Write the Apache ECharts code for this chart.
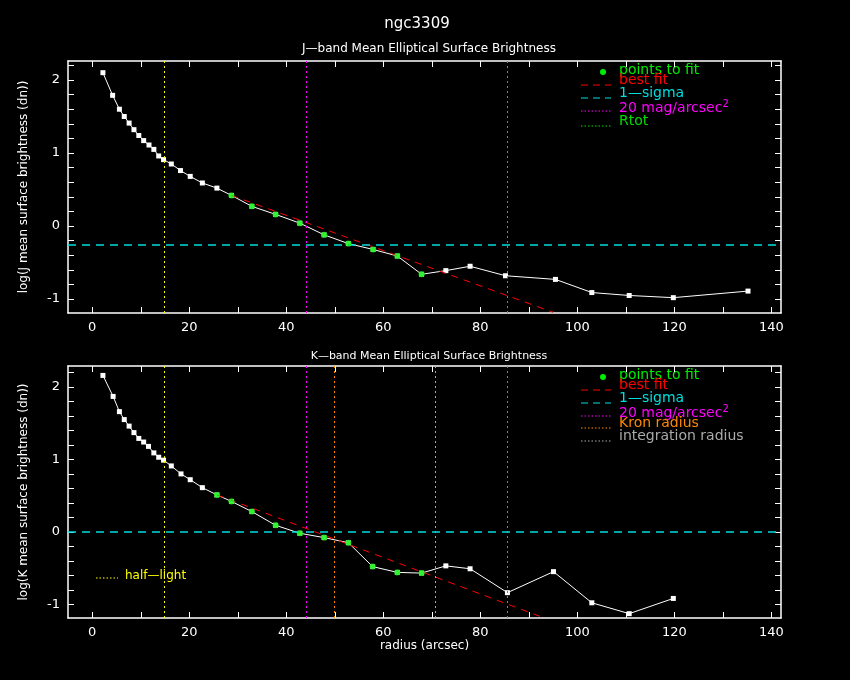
<!DOCTYPE html>
<html><head><meta charset="utf-8">
<script src="https://cdn.jsdelivr.net/npm/echarts@6/dist/echarts.min.js"></script>
<style>html,body{margin:0;background:#000}#c{width:850px;height:680px}</style>
</head><body><div id="c"></div>
<script>
// J band profile
var jRadius = [2.2,4.2,5.6,6.6,7.6,8.6,9.6,10.6,11.7,12.7,13.7,14.7,16.3,18.2,20.2,22.7,25.7,28.7,32.9,37.8,42.8,47.8,52.8,57.9,62.9,67.9,72.9,77.9,85.2,95.5,103,110.7,119.8,135.2]
var jValue = [2.10,1.79,1.60,1.50,1.41,1.32,1.24,1.17,1.11,1.05,0.96,0.91,0.85,0.76,0.68,0.59,0.52,0.42,0.27,0.16,0.04,-0.12,-0.24,-0.32,-0.41,-0.66,-0.61,-0.55,-0.68,-0.73,-0.91,-0.95,-0.98,-0.89]
var jFitIdx = [17,18,19,20,21,22,23,24,25]
var jFitLine = [[28.7,0.42],[95,-1.18]]
var jSigma = -0.25
var jVert = [[14.9,'#ffff00'],[44.1,'#ff00ff'],[85.5,'#00dd00']]
// K band profile
var kRadius = [2.2,4.3,5.6,6.6,7.6,8.6,9.6,10.6,11.6,12.7,13.7,14.7,16.3,18.3,20.2,22.7,25.7,28.7,32.9,37.8,42.8,47.8,52.8,57.8,62.9,67.9,72.9,77.9,85.6,95.1,103,110.7,119.8]
var kValue = [2.16,1.87,1.66,1.55,1.46,1.37,1.29,1.24,1.18,1.09,1.03,0.99,0.91,0.80,0.72,0.61,0.51,0.42,0.28,0.09,-0.02,-0.08,-0.15,-0.48,-0.56,-0.57,-0.47,-0.51,-0.84,-0.55,-0.98,-1.13,-0.92]
var kFitIdx = [16,17,18,19,20,21,22,23,24,25]
var kFitLine = [[25.7,0.51],[92.4,-1.17]]
var kSigma = 0
var kVert = [[14.9,'#ffff00'],[44.1,'#ff00ff'],[49.9,'#ff8800'],[70.7,'#aaaaaa'],[85.5,'#00dd00']]

var xLabels = [0,20,40,60,80,100,120,140]
var xTicks = [0,10,20,30,40,50,60,70,80,90,100,110,120,130,140]
var yLabels = [-1,0,1,2]
var yTicks = []
for (var t = -10; t <= 22; t += 2) yTicks.push(t / 10)

var font = 'DejaVu Sans'
function pts(xs, ys) { return xs.map(function(x, i){ return [x, ys[i]] }) }
function sel(xs, ys, idx) { return idx.map(function(i){ return [xs[i], ys[i]] }) }

function xAx(g, pos, showLabel, name) {
  return {
    type: 'value', gridIndex: g, position: pos, min: -5, max: 142,
    name: name, nameLocation: 'middle', nameGap: 22,
    nameTextStyle: {color: '#fff', fontFamily: font, fontSize: 12},
    axisLine: {onZero: false, lineStyle: {color: '#fff', width: 1.5}},
    axisTick: {inside: true, length: 6, customValues: xTicks, lineStyle: {color: '#fff'}},
    axisLabel: {show: showLabel, customValues: xLabels, color: '#fff', fontFamily: font, fontSize: 13},
    splitLine: {show: false}
  }
}
function yAx(g, pos, showLabel, max, name) {
  return {
    type: 'value', gridIndex: g, position: pos, min: -1.19, max: max,
    name: name, nameLocation: 'middle', nameGap: 38,
    nameTextStyle: {color: '#fff', fontFamily: font, fontSize: 12},
    axisLine: {onZero: false, lineStyle: {color: '#fff', width: 1.5}},
    axisTick: {inside: true, length: 6, customValues: yTicks, lineStyle: {color: '#fff'}},
    axisLabel: {show: showLabel, customValues: yLabels, color: '#fff', fontFamily: font, fontSize: 13},
    splitLine: {show: false}
  }
}

function panel(g, xs, ys, idx, fit, sigma, verts) {
  var marks = verts.map(function(v){
    return {xAxis: v[0], lineStyle: {color: v[1], type: [2, 3], width: 1}}
  })
  marks.push({yAxis: sigma, lineStyle: {color: '#00dddd', type: [8, 6], width: 1.5}})
  return [
    {type: 'line', xAxisIndex: g * 2, yAxisIndex: g * 2, data: pts(xs, ys),
     symbol: 'rect', symbolSize: 5, itemStyle: {color: '#fff'}, lineStyle: {color: '#fff', width: 1},
     markLine: {silent: true, symbol: 'none', label: {show: false}, data: marks}, z: 3},
    {type: 'line', xAxisIndex: g * 2, yAxisIndex: g * 2, data: fit, symbol: 'none',
     lineStyle: {color: '#ff0000', type: [7, 6], width: 1}, z: 4},
    {type: 'scatter', xAxisIndex: g * 2, yAxisIndex: g * 2, data: sel(xs, ys, idx),
     symbol: 'circle', symbolSize: 6, itemStyle: {color: '#00ee00'}, z: 5}
  ]
}

function legend(rows) {
  var els = []
  rows.forEach(function(r){
    var y = r[3]
    if (r[2] === 'dot') els.push({type: 'circle', shape: {cx: 603, cy: y + 5, r: 3}, style: {fill: r[1]}})
    else els.push({type: 'line', shape: {x1: 581, y1: y + 8, x2: 611, y2: y + 8},
      style: {stroke: r[1], lineDash: r[2] === 'dash' ? [7, 5] : [1.5, 2], lineWidth: 1.2}})
    els.push({type: 'text', left: 619, top: y - 4, style: {text: r[0], fill: r[1], font: '14px ' + font,
      rich: {s: {fontSize: 10, fill: r[1], verticalAlign: 'top', padding: [0, 0, 8, 0], fontFamily: font}}}})
  })
  return els
}

var chart = echarts.init(document.getElementById('c'))
chart.setOption({
  backgroundColor: '#000',
  animation: false,
  title: [
    {text: 'ngc3309', left: 412, top: 12, textAlign: 'center', textStyle: {color: '#fff', fontFamily: font, fontSize: 15, fontWeight: 'normal'}},
    {text: 'J\u2014band Mean Elliptical Surface Brightness', left: 424, top: 38, textAlign: 'center', textStyle: {color: '#fff', fontFamily: font, fontSize: 12, fontWeight: 'normal'}},
    {text: 'K\u2014band Mean Elliptical Surface Brightness', left: 424, top: 346, textAlign: 'center', textStyle: {color: '#fff', fontFamily: font, fontSize: 11, fontWeight: 'normal'}}
  ],
  grid: [
    {left: 68, top: 61, width: 713, height: 252},
    {left: 68, top: 366, width: 713, height: 252}
  ],
  xAxis: [xAx(0, 'bottom', true), xAx(0, 'top', false), xAx(1, 'bottom', true, 'radius (arcsec)'), xAx(1, 'top', false)],
  yAxis: [yAx(0, 'left', true, 2.26, 'log(J mean surface brightness (dn))'), yAx(0, 'right', false, 2.26),
          yAx(1, 'left', true, 2.29, 'log(K mean surface brightness (dn))'), yAx(1, 'right', false, 2.29)],
  series: panel(0, jRadius, jValue, jFitIdx, jFitLine, jSigma, jVert)
    .concat(panel(1, kRadius, kValue, kFitIdx, kFitLine, kSigma, kVert)),
  graphic: legend([
      ['points to fit', '#00ee00', 'dot', 67], ['best fit', '#ff0000', 'dash', 77], ['1\u2014sigma', '#00dddd', 'dash', 90],
      ['20 mag/arcsec{s|2}', '#ff00ff', 'dotted', 103], ['Rtot', '#00dd00', 'dotted', 118]
    ])
    .concat(legend([
      ['points to fit', '#00ee00', 'dot', 372], ['best fit', '#ff0000', 'dash', 382], ['1\u2014sigma', '#00dddd', 'dash', 395],
      ['20 mag/arcsec{s|2}', '#ff00ff', 'dotted', 408], ['Kron radius', '#ff8800', 'dotted', 420], ['integration radius', '#aaaaaa', 'dotted', 433]
    ]))
    .concat([
      {type: 'line', shape: {x1: 96, y1: 578, x2: 118, y2: 578}, style: {stroke: '#ffff00', lineDash: [1.5, 2], lineWidth: 1.2}},
      {type: 'text', left: 125, top: 570, style: {text: 'half\u2014light', fill: '#ffff00', font: '12px ' + font}}
    ])
})
</script></body></html>
